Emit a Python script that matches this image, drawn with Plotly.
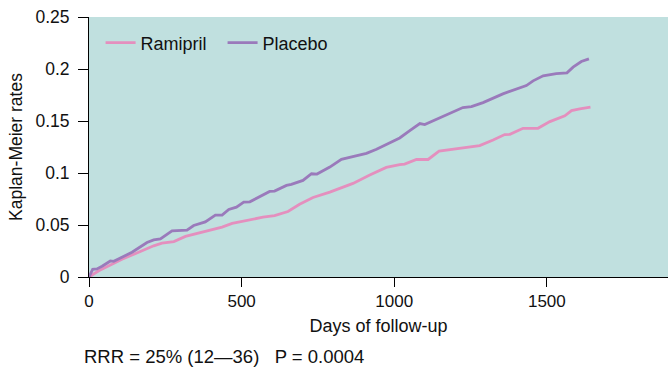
import plotly.graph_objects as go

# Kaplan-Meier event rates by days of follow-up
ramipril_days = [0, 32, 108, 212, 239, 278, 316, 359, 403, 436, 469, 523, 570, 608, 652,
                 690, 734, 789, 865, 920, 974, 1018, 1034, 1073, 1111, 1147, 1182, 1237,
                 1280, 1324, 1362, 1379, 1422, 1471, 1510, 1559, 1581, 1608, 1643]
ramipril_rates = [0, 0.006, 0.017, 0.030, 0.0325, 0.034, 0.039, 0.042, 0.045, 0.048, 0.0515,
                  0.055, 0.0575, 0.059, 0.063, 0.070, 0.0765, 0.0816, 0.090, 0.098, 0.1054,
                  0.108, 0.1086, 0.113, 0.113, 0.121, 0.1224, 0.1243, 0.1263, 0.1317, 0.137,
                  0.1372, 0.143, 0.143, 0.1494, 0.155, 0.160, 0.1616, 0.1633]

placebo_days = [0, 12, 26, 43, 70, 81, 103, 141, 190, 212, 234, 272, 321, 343, 381, 414,
                436, 458, 483, 507, 527, 592, 608, 647, 663, 701, 729, 747, 789, 827, 871,
                909, 942, 985, 1018, 1051, 1084, 1100, 1149, 1225, 1253, 1291, 1356, 1389,
                1433, 1455, 1488, 1531, 1566, 1586, 1613, 1638]
placebo_rates = [0, 0.0074, 0.0077, 0.0103, 0.0154, 0.0151, 0.0183, 0.0238, 0.0332, 0.0357,
                 0.0366, 0.0443, 0.045, 0.0495, 0.053, 0.0595, 0.0595, 0.065, 0.0672, 0.072,
                 0.0723, 0.0823, 0.0826, 0.0881, 0.089, 0.0929, 0.0993, 0.099, 0.1057, 0.1131,
                 0.1163, 0.1189, 0.1228, 0.1286, 0.1337, 0.1407, 0.1475, 0.1465, 0.153,
                 0.1629, 0.1638, 0.1677, 0.1761, 0.1793, 0.1841, 0.1886, 0.1934, 0.1956,
                 0.1963, 0.2018, 0.2072, 0.2098]

x_ticks = [0, 500, 1000, 1500]
y_ticks = [0, 0.05, 0.1, 0.15, 0.2, 0.25]
y_tick_labels = ["0", "0.05", "0.1", "0.15", "0.2", "0.25"]

FONT = "Liberation Sans, Arial, sans-serif"
INK = "#111111"

fig = go.Figure()
fig.add_trace(go.Scatter(x=ramipril_days, y=ramipril_rates, mode="lines", name="Ramipril",
                         line=dict(color="#e48fbe", width=2.8)))
fig.add_trace(go.Scatter(x=placebo_days, y=placebo_rates, mode="lines", name="Placebo",
                         line=dict(color="#9a7abb", width=2.8)))

fig.update_layout(
    width=668, height=368,
    margin=dict(l=89, r=0, t=17, b=91),
    paper_bgcolor="white",
    plot_bgcolor="#c0e0df",
    font=dict(family=FONT, size=17, color=INK),
    showlegend=True,
    legend=dict(orientation="h", x=0.02, y=0.9, xanchor="left", yanchor="middle",
                bgcolor="rgba(0,0,0,0)", font=dict(size=18), itemwidth=30,
                entrywidth=77, tracegroupgap=0),
    xaxis=dict(range=[0, 1897], tickvals=x_ticks, ticks="outside", ticklen=9,
               tickcolor="black", showline=True, linecolor="black", linewidth=1,
               showgrid=False, zeroline=False, tickfont=dict(size=17),
               title=dict(text="Days of follow-up", standoff=8, font=dict(size=18))),
    yaxis=dict(range=[0, 0.25], tickvals=y_ticks, ticktext=y_tick_labels,
               ticks="outside", ticklen=10, tickcolor="black", showline=True,
               linecolor="black", linewidth=1, showgrid=False, zeroline=False,
               tickfont=dict(size=17.5), ticklabelstandoff=5,
               title=dict(text="Kaplan-Meier rates", standoff=8, font=dict(size=17.5))),
    annotations=[dict(text="RRR = 25% (12\u201436)   P = 0.0004", xref="paper", yref="paper",
                      x=-0.012, y=-0.3065, xanchor="left", yanchor="middle",
                      showarrow=False, font=dict(size=18.5))],
)

fig.write_html("out.html")
